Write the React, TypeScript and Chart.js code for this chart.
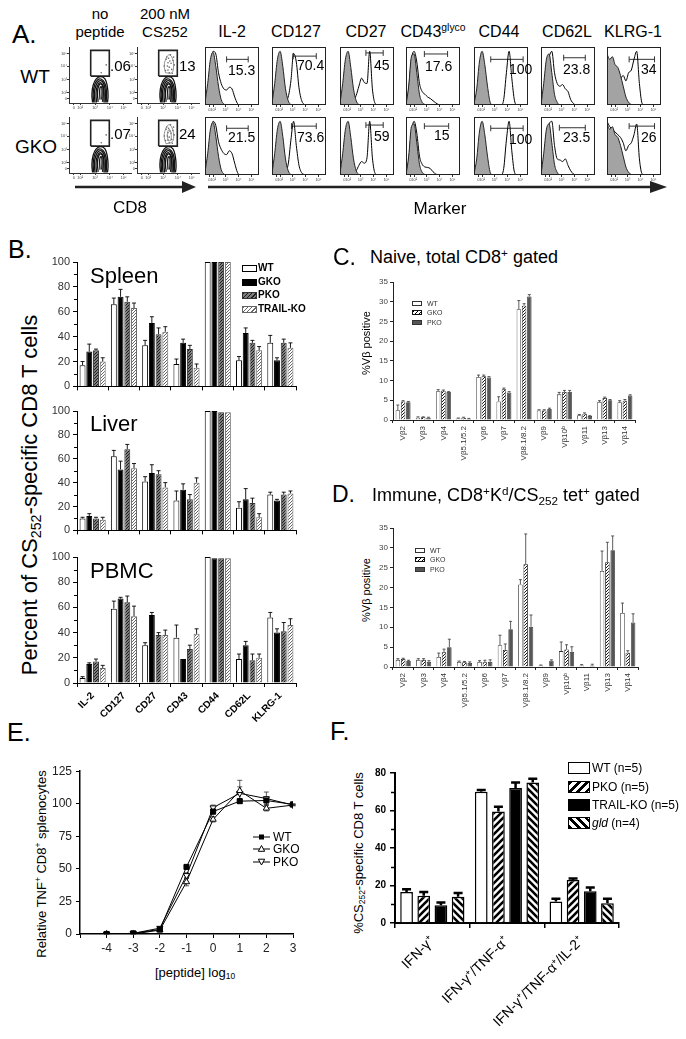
import React, { useEffect, useRef } from "react";
import { Chart, registerables } from "chart.js";
Chart.register(...registerables);

const FONT = "'Liberation Sans', Arial, Helvetica, sans-serif";
Chart.defaults.font.family = FONT;

// ---------------- Panel A data ----------------
const A_HEAD = ["IL-2", "CD127", "CD27", "CD43", "CD44", "CD62L", "KLRG-1"];
const A_HEAD_SUP = ["", "", "", "glyco", "", "", ""];
const A_PCT_WT = ["15.3", "70.4", "45", "17.6", "100", "23.8", "34"];
const A_PCT_GKO = ["21.5", "73.6", "59", "15", "100", "23.5", "26"];
const A_DOT_PCT_WT = [".06", "13"];
const A_DOT_PCT_GKO = [".07", "24"];

const HX = [0, 5, 10, 15, 20, 25, 30, 35, 40, 45, 50, 55, 60, 65, 70, 75, 80, 85, 90, 95, 100];
const H_TICKS = [8, 15, 38, 62, 86];
const H_TICK_LABELS = ["0", "10²", "10³", "10⁴", "10⁵"];

const IL2_CTRL = [5, 40, 85, 98, 72, 35, 10, 2, 0, 0, 0, 0, 0, 0, 0, 0, 0, 0, 0, 0, 0];
const IL2_WT = [0, 20, 70, 100, 95, 60, 40, 30, 28, 33, 30, 15, 3, 0, 0, 0, 0, 0, 0, 0, 0];
const IL2_GKO = [0, 22, 72, 100, 92, 62, 48, 40, 38, 45, 40, 22, 5, 0, 0, 0, 0, 0, 0, 0, 0];
const CD127_CTRL = [3, 40, 85, 100, 72, 30, 8, 1, 0, 0, 0, 0, 0, 0, 0, 0, 0, 0, 0, 0, 0];
const CD127_WT = [0, 1, 2, 4, 6, 8, 15, 45, 96, 80, 32, 8, 1, 0, 0, 0, 0, 0, 0, 0, 0];
const CD127_GKO = [0, 1, 2, 3, 5, 8, 20, 65, 100, 55, 18, 4, 1, 0, 0, 0, 0, 0, 0, 0, 0];
const CD27_CTRL = [3, 40, 85, 100, 70, 30, 8, 1, 0, 0, 0, 0, 0, 0, 0, 0, 0, 0, 0, 0, 0];
const CD27_WT = [0, 2, 3, 4, 5, 8, 18, 35, 50, 42, 40, 100, 30, 3, 0, 0, 0, 0, 0, 0, 0];
const CD27_GKO = [0, 1, 2, 2, 3, 4, 8, 18, 25, 22, 32, 100, 32, 3, 0, 0, 0, 0, 0, 0, 0];
const CD43_CTRL = [0, 35, 90, 95, 60, 20, 5, 1, 0, 0, 0, 0, 0, 0, 0, 0, 0, 0, 0, 0, 0];
const CD43_WT = [0, 30, 85, 100, 80, 40, 25, 20, 15, 12, 8, 4, 1, 0, 0, 0, 0, 0, 0, 0, 0];
const CD43_GKO = [0, 28, 80, 100, 78, 35, 20, 15, 14, 12, 6, 2, 0, 0, 0, 0, 0, 0, 0, 0, 0];
const CD44_CTRL = [2, 30, 80, 100, 75, 35, 5, 0, 0, 0, 0, 0, 0, 0, 0, 0, 0, 0, 0, 0, 0];
const CD44_WT = [0, 0, 0, 0, 0, 0, 0, 0, 0, 0, 0, 10, 60, 100, 50, 8, 0, 0, 0, 0, 0];
const CD44_GKO = [0, 0, 0, 0, 0, 0, 0, 0, 0, 0, 0, 12, 65, 100, 45, 5, 0, 0, 0, 0, 0];
const CD62L_CTRL = [0, 40, 85, 95, 60, 20, 5, 0, 0, 0, 0, 0, 0, 0, 0, 0, 0, 0, 0, 0, 0];
const CD62L_WT = [0, 20, 70, 90, 100, 60, 40, 35, 38, 30, 25, 10, 3, 0, 0, 0, 0, 0, 0, 0, 0];
const CD62L_GKO = [0, 25, 75, 95, 100, 55, 30, 28, 25, 30, 18, 8, 2, 0, 0, 0, 0, 0, 0, 0, 0];
const KLRG1_CTRL = [95, 85, 90, 75, 70, 55, 35, 15, 5, 1, 0, 0, 0, 0, 0, 0, 0, 0, 0, 0, 0];
const KLRG1_WT = [85, 60, 65, 55, 55, 50, 55, 45, 60, 65, 85, 100, 40, 3, 0, 0, 0, 0, 0, 0, 0];
const KLRG1_GKO = [100, 90, 85, 80, 75, 70, 60, 45, 55, 60, 75, 95, 30, 2, 0, 0, 0, 0, 0, 0, 0];

const HIST_CTRL = [IL2_CTRL, CD127_CTRL, CD27_CTRL, CD43_CTRL, CD44_CTRL, CD62L_CTRL, KLRG1_CTRL];
const HIST_WT = [IL2_WT, CD127_WT, CD27_WT, CD43_WT, CD44_WT, CD62L_WT, KLRG1_WT];
const HIST_GKO = [IL2_GKO, CD127_GKO, CD27_GKO, CD43_GKO, CD44_GKO, CD62L_GKO, KLRG1_GKO];
// gate bars: [from, to, level]
const GATE_WT = [[40, 80, 85], [39, 82, 91], [48, 80, 97], [34, 77, 95], [31, 91, 85], [42, 82, 88], [41, 88, 85]];
const GATE_GKO = [[40, 80, 87], [36, 82, 91], [48, 80, 93], [34, 79, 91], [31, 91, 87], [34, 82, 88], [41, 88, 91]];

// dot plots (log-decade units)
const DOT_TICKS = [0.4, 0.9, 2.1, 3.3, 4.4];
const DOT_TICK_LABELS = ["0", "10²", "10³", "10⁴", "10⁵"];
const RING_A = [[1.9, 0.05], [1.85, 0.8], [1.95, 1.6], [2.2, 2.15], [2.55, 2.35], [2.9, 2.15], [3.1, 1.4], [3.15, 0.6], [3.1, 0.05]];
const RING_E = [[2.0, 0.05], [1.95, 0.8], [2.05, 1.55], [2.3, 2.05], [2.62, 2.12], [2.9, 1.75], [3.02, 1.0], [3.0, 0.05]];
const RING_B = [[2.1, 0.05], [2.05, 0.8], [2.15, 1.5], [2.4, 1.95], [2.7, 1.9], [2.9, 1.3], [2.95, 0.6], [2.9, 0.05]];
const RING_F = [[2.22, 0.05], [2.18, 0.85], [2.28, 1.5], [2.5, 1.82], [2.72, 1.6], [2.83, 1.0], [2.82, 0.05]];
const RING_C = [[2.35, 0.1], [2.3, 0.9], [2.4, 1.55], [2.6, 1.7], [2.75, 1.3], [2.75, 0.5], [2.7, 0.1]];
const RING_D = [[2.5, 0.3], [2.48, 1.2], [2.58, 1.45], [2.66, 1.2], [2.64, 0.3]];
const RING_GATE_WT = [[2.3, 2.7], [2.2, 3.3], [2.35, 4.0], [2.6, 4.3], [2.85, 4.0], [2.95, 3.3], [2.8, 2.7], [2.3, 2.7]];
const RING_GATE_GKO = [[2.35, 2.6], [2.2, 3.2], [2.3, 3.9], [2.55, 4.3], [2.8, 4.1], [2.95, 3.4], [2.85, 2.8], [2.35, 2.6]];
const RING_GATE_GKO2 = [[2.5, 2.9], [2.45, 3.5], [2.6, 3.9], [2.75, 3.5], [2.7, 2.9], [2.5, 2.9]];
const DOTS_NOPEP = [[2.6, 2.7], [3.0, 3.4]];
const DOTS_CS = [[2.3, 2.9], [2.6, 3.2], [2.8, 3.0], [2.5, 3.6], [2.9, 3.8], [2.4, 4.1], [2.7, 4.3], [3.0, 3.4], [2.6, 2.7], [2.2, 3.3], [2.75, 3.55], [2.5, 2.95], [2.35, 3.9], [2.85, 2.65], [2.55, 4.0], [2.95, 4.1], [2.45, 3.3], [2.65, 3.75]];
const DOT_GATE = [1.75, 2.4, 3.25, 4.7];

// ---------------- Panel B data ----------------
const B_CATS = ["IL-2", "CD127", "CD27", "CD43", "CD44", "CD62L", "KLRG-1"];
const SPLEEN_WT = [17, 66, 33, 18, 100, 21, 35];
const SPLEEN_WT_ERR = [3, 5, 4, 4, 0, 3, 6];
const SPLEEN_GKO = [28, 72, 51, 35, 100, 43, 21];
const SPLEEN_GKO_ERR = [6, 6, 5, 3, 0, 4, 2];
const SPLEEN_PKO = [29, 68, 42, 30, 100, 35, 35];
const SPLEEN_PKO_ERR = [1, 4, 5, 3, 0, 2, 3];
const SPLEEN_TRAIL = [20, 63, 44, 15, 100, 29, 31];
const SPLEEN_TRAIL_ERR = [3, 4, 4, 3, 0, 3, 4];
const LIVER_WT = [10, 62, 41, 25, 100, 19, 30];
const LIVER_WT_ERR = [1, 5, 4, 8, 0, 5, 2];
const LIVER_GKO = [12, 51, 48, 34, 100, 26, 25];
const LIVER_GKO_ERR = [2, 7, 7, 5, 0, 9, 1];
const LIVER_PKO = [10, 68, 47, 26, 99, 23, 30];
const LIVER_PKO_ERR = [1, 4, 3, 4, 0, 4, 2];
const LIVER_TRAIL = [9, 52, 36, 40, 99, 11, 31];
const LIVER_TRAIL_ERR = [2, 4, 4, 4, 0, 3, 2];
const PBMC_WT = [4, 59, 30, 36, 100, 19, 52];
const PBMC_WT_ERR = [1, 6, 2, 10, 0, 4, 4];
const PBMC_GKO = [15, 67, 54, 19, 99, 30, 40];
const PBMC_GKO_ERR = [1, 1, 2, 0, 0, 3, 3];
const PBMC_PKO = [17, 64, 38, 27, 99, 18, 41];
const PBMC_PKO_ERR = [2, 5, 2, 3, 0, 5, 7];
const PBMC_TRAIL = [12, 53, 38, 39, 99, 20, 46];
const PBMC_TRAIL_ERR = [2, 8, 4, 4, 0, 3, 5];

// ---------------- Panel C / D data ----------------
const V_CATS = ["Vβ2", "Vβ3", "Vβ4", "Vβ5.1/5.2", "Vβ6", "Vβ7", "Vβ8.1/8.2", "Vβ9", "Vβ10ᵇ", "Vβ11", "Vβ13", "Vβ14"];
const C_WT = [2.5, 0.6, 7.3, 0.4, 10.9, 4.7, 28.1, 2.4, 6.5, 1.2, 4.6, 4.5];
const C_WT_ERR = [1.3, 0.2, 0.4, 0.1, 0.5, 1.2, 2.2, 0.2, 0.5, 0.2, 0.3, 0.4];
const C_GKO = [4.7, 0.7, 7.4, 0.6, 11.1, 7.8, 29.0, 2.4, 7.1, 1.6, 5.6, 4.9];
const C_GKO_ERR = [0.2, 0.1, 0.2, 0.1, 0.3, 0.3, 0.5, 0.2, 0.4, 0.2, 0.2, 0.3];
const C_PKO = [4.5, 0.6, 7.1, 0.3, 10.8, 7.0, 31.3, 2.8, 7.1, 1.0, 5.0, 6.2];
const C_PKO_ERR = [0.2, 0.1, 0.1, 0.1, 0.2, 0.2, 0.5, 0.2, 0.4, 0.1, 0.2, 0.2];
const D_WT = [1.8, 1.8, 2.5, 1.3, 1.3, 5.5, 20.8, 0.4, 4.0, 0.4, 24.2, 13.6];
const D_WT_ERR = [0.3, 0.3, 1.0, 0.2, 0.3, 2.5, 1.2, 0.1, 2.3, 0.2, 5.0, 2.5];
const D_GKO = [2.0, 1.8, 3.7, 1.2, 1.2, 4.3, 25.9, 0, 4.4, 0, 26.4, 3.6];
const D_GKO_ERR = [0.2, 0.3, 0.8, 0.2, 0.5, 1.5, 7.6, 0, 1.2, 0, 5.0, 0.5];
const D_PKO = [1.5, 1.3, 5.0, 1.0, 1.3, 9.5, 10.1, 1.6, 3.8, 0.4, 29.4, 11.2];
const D_PKO_ERR = [0.2, 0.3, 2.0, 0.3, 0.5, 2.0, 3.0, 0.2, 1.3, 0.3, 3.6, 2.2];

// ---------------- Panel E data ----------------
const E_X = [-4, -3, -2, -1, 0, 1, 2, 3];
const E_TICKS = [-5, -4, -3, -2, -1, 0, 1, 2, 3];
const E_WT = [0, 0.5, 3.5, 51.5, 94, 102, 102.5, 99.5];
const E_WT_ERR = [0.5, 0.5, 1, 1.5, 2, 1.5, 3, 0.5];
const E_GKO = [0, 0, 3, 40, 88, 110, 96.5, 99];
const E_GKO_ERR = [0.5, 0.5, 1, 3, 2, 8, 2, 0.5];
const E_PKO = [0, 0.5, 4.5, 45, 97, 108, 104, 99];
const E_PKO_ERR = [0.5, 0.5, 1, 2, 2, 5, 5, 0.5];

// ---------------- Panel F data ----------------
const F_CATS = ["IFN-γ⁺", "IFN-γ⁺/TNF-α⁺", "IFN-γ⁺/TNF-α⁺/IL-2⁺"];
const F_WT = [16.5, 70, 11.5];
const F_WT_ERR = [1.5, 1, 1.5];
const F_PKO = [14.5, 59.5, 23];
const F_PKO_ERR = [2, 2.5, 0.8];
const F_TRAIL = [9.5, 72, 17];
const F_TRAIL_ERR = [1.5, 3, 2];
const F_GLD = [14, 75, 10.5];
const F_GLD_ERR = [2, 2, 2.5];

// ---------------- helpers ----------------
function hatch(ctx: any, bg: string, fg: string, dir: number, size: number, lw: number) {
  const c = document.createElement("canvas");
  c.width = size;
  c.height = size;
  const g = c.getContext("2d")!;
  g.fillStyle = bg;
  g.fillRect(0, 0, size, size);
  g.strokeStyle = fg;
  g.lineWidth = lw;
  g.beginPath();
  if (dir > 0) {
    g.moveTo(0, size); g.lineTo(size, 0);
    g.moveTo(-size / 2, size / 2); g.lineTo(size / 2, -size / 2);
    g.moveTo(size / 2, size * 1.5); g.lineTo(size * 1.5, size / 2);
  } else {
    g.moveTo(0, 0); g.lineTo(size, size);
    g.moveTo(-size / 2, size / 2); g.lineTo(size / 2, size * 1.5);
    g.moveTo(size / 2, -size / 2); g.lineTo(size * 1.5, size / 2);
  }
  g.stroke();
  return ctx.createPattern(c, "repeat");
}

const errPlugin = (errs: any[], o: { lw: number; cap: number; color: string; both?: boolean; before?: boolean }) => {
  const draw = (chart: any) => {
    const ctx = chart.ctx;
    const ys = chart.scales.y;
    ctx.save();
    ctx.strokeStyle = o.color;
    ctx.lineWidth = o.lw;
    errs.forEach((arr, di) => {
      if (!arr) return;
      const meta = chart.getDatasetMeta(di);
      meta.data.forEach((el: any, j: number) => {
        const e = arr[j];
        if (!e) return;
        const raw = chart.data.datasets[di].data[j];
        const val = typeof raw === "number" ? raw : raw.y;
        const x = el.x;
        const yTop = ys.getPixelForValue(val + e);
        const yBot = o.both ? ys.getPixelForValue(Math.max(0, val - e)) : el.y;
        ctx.beginPath();
        ctx.moveTo(x, yBot);
        ctx.lineTo(x, yTop);
        ctx.moveTo(x - o.cap / 2, yTop);
        ctx.lineTo(x + o.cap / 2, yTop);
        if (o.both) {
          ctx.moveTo(x - o.cap / 2, yBot);
          ctx.lineTo(x + o.cap / 2, yBot);
        }
        ctx.stroke();
      });
    });
    ctx.restore();
  };
  return o.before ? { id: "errbars", beforeDatasetsDraw: draw } : { id: "errbars", afterDatasetsDraw: draw };
};

const minorTicks = (vals: number[], len: number, lw = 1) => ({
  id: "minorTicks",
  afterDraw(chart: any) {
    const s = chart.scales.y;
    const ctx = chart.ctx;
    const x0 = chart.chartArea.left;
    ctx.save();
    ctx.strokeStyle = "#000";
    ctx.lineWidth = lw;
    ctx.beginPath();
    vals.forEach((v) => {
      const y = Math.round(s.getPixelForValue(v)) + 0.5;
      ctx.moveTo(x0 - len, y);
      ctx.lineTo(x0, y);
    });
    ctx.stroke();
    ctx.restore();
  },
});

const framePlugin = (color: string, lw: number) => ({
  id: "frame",
  afterDraw(chart: any) {
    const a = chart.chartArea;
    const ctx = chart.ctx;
    ctx.save();
    ctx.strokeStyle = color;
    ctx.lineWidth = lw;
    ctx.strokeRect(a.left + 0.5, a.top + 0.5, a.right - a.left - 1, a.bottom - a.top - 1);
    ctx.restore();
  },
});

const NOPLUG = { legend: { display: false }, tooltip: { enabled: false } };

function ChartBox({ x, y, w, h, make }: { x: number; y: number; w: number; h: number; make: (ctx: any) => any }) {
  const ref = useRef<HTMLCanvasElement | null>(null);
  useEffect(() => {
    const cv = ref.current!;
    const ctx = cv.getContext("2d");
    const cfg = make(ctx);
    cfg.options = { responsive: false, animation: false, ...cfg.options };
    const ch = new Chart(cv, cfg);
    return () => ch.destroy();
  }, []);
  return (
    <div style={{ position: "absolute", left: x, top: y, width: w, height: h }}>
      <canvas ref={ref} width={w} height={h} />
    </div>
  );
}

// ---------------- chart factories ----------------
function makeHist(ctrl: number[], samp: number[], gate: number[]) {
  return () => ({
    type: "line",
    data: {
      datasets: [
        { data: HX.map((x, i) => ({ x, y: ctrl[i] })), fill: "origin", backgroundColor: "#a3a3a3", borderColor: "#222", borderWidth: 1, pointRadius: 0, cubicInterpolationMode: "monotone" },
        { data: HX.map((x, i) => ({ x, y: samp[i] })), fill: false, borderColor: "#000", borderWidth: 1, pointRadius: 0, cubicInterpolationMode: "monotone" },
        { data: [{ x: gate[0], y: gate[2] }, { x: gate[1], y: gate[2] }], fill: false, borderColor: "#333", borderWidth: 1, pointStyle: "line", pointRotation: 90, pointRadius: 3, pointBorderColor: "#333", pointBorderWidth: 1 },
      ],
    },
    options: {
      layout: { padding: { top: 1, left: 1, right: 1, bottom: 0 }, autoPadding: false },
      plugins: NOPLUG,
      scales: {
        x: {
          type: "linear", min: 0, max: 100,
          afterBuildTicks: (s: any) => { s.ticks = H_TICKS.map((v) => ({ value: v })); },
          ticks: { callback: (_v: any, i: number) => H_TICK_LABELS[i], font: { size: 4 }, color: "#444", padding: 0, maxRotation: 0, autoSkip: false },
          grid: { drawOnChartArea: false, tickLength: 2, color: "#333" },
          border: { display: false },
          afterFit: (s: any) => { s.height = 7; },
        },
        y: { display: false, min: 0, max: 108 },
      },
    },
    plugins: [framePlugin("#222", 1)],
  });
}

function makeDot(rings: number[][][], grayRings: number[][][], dots: number[][]) {
  return () => ({
    type: "scatter",
    data: {
      datasets: [
        ...rings.map((r) => ({ type: "line", data: r.map((p) => ({ x: p[0], y: p[1] })), borderColor: "#111", borderWidth: 1.3, pointRadius: 0, tension: 0.45, fill: false })),
        ...grayRings.map((r) => ({ type: "line", data: r.map((p) => ({ x: p[0], y: p[1] })), borderColor: "#777", borderWidth: 0.8, pointRadius: 0, tension: 0.45, fill: false })),
        { type: "scatter", data: dots.map((p) => ({ x: p[0], y: p[1] })), pointRadius: 0.8, pointBackgroundColor: "#666", pointBorderWidth: 0 },
        {
          type: "line",
          data: [
            { x: DOT_GATE[0], y: DOT_GATE[1] }, { x: DOT_GATE[0], y: DOT_GATE[3] },
            { x: DOT_GATE[2], y: DOT_GATE[3] }, { x: DOT_GATE[2], y: DOT_GATE[1] }, { x: DOT_GATE[0], y: DOT_GATE[1] },
          ],
          borderColor: "#222", borderWidth: 1.6, pointRadius: 0, tension: 0, fill: false,
        },
      ],
    },
    options: {
      layout: { padding: { top: 3, left: 0, right: 2, bottom: 0 }, autoPadding: false },
      plugins: NOPLUG,
      scales: {
        x: {
          type: "linear", min: 0, max: 5,
          afterBuildTicks: (s: any) => { s.ticks = DOT_TICKS.map((v) => ({ value: v })); },
          ticks: { callback: (_v: any, i: number) => DOT_TICK_LABELS[i], font: { size: 4 }, color: "#444", padding: 0, maxRotation: 0, autoSkip: false },
          grid: { drawOnChartArea: false, tickLength: 2, color: "#333" },
          border: { display: true, color: "#333", width: 1 },
          afterFit: (s: any) => { s.height = 8; },
        },
        y: {
          type: "linear", min: 0, max: 5,
          afterBuildTicks: (s: any) => { s.ticks = DOT_TICKS.map((v) => ({ value: v })); },
          ticks: { callback: (_v: any, i: number) => DOT_TICK_LABELS[i], font: { size: 4 }, color: "#444", padding: 0, autoSkip: false },
          grid: { drawOnChartArea: false, tickLength: 2, color: "#333" },
          border: { display: true, color: "#333", width: 1 },
          afterFit: (s: any) => { s.width = 10; },
        },
      },
    },
  });
}

function makeB(wt: number[], wtE: number[], gko: number[], gkoE: number[], pko: number[], pkoE: number[], tr: number[], trE: number[], showLabels: boolean) {
  return (ctx: any) => ({
    type: "bar",
    data: {
      labels: B_CATS,
      datasets: [
        { data: wt, backgroundColor: "#fff", borderColor: "#000", borderWidth: 1 },
        { data: gko, backgroundColor: "#000", borderColor: "#000", borderWidth: 1 },
        { data: pko, backgroundColor: hatch(ctx, "#7c7c7c", "#1e1e1e", 1, 3, 1), borderColor: "#333", borderWidth: 1 },
        { data: tr, backgroundColor: hatch(ctx, "#fff", "#666", 1, 3, 1), borderColor: "#666", borderWidth: 1 },
      ].map((d) => ({ ...d, barPercentage: 0.88, categoryPercentage: 0.86 })),
    },
    options: {
      layout: { padding: { top: 10, right: 4, left: 0, bottom: 0 }, autoPadding: false },
      plugins: NOPLUG,
      scales: {
        x: {
          grid: { display: true, drawOnChartArea: false, drawTicks: true, tickLength: 4, color: "#000", offset: true },
          border: { display: true, color: "#000", width: 1 },
          ticks: { display: showLabels, font: { size: 10, weight: "bold" }, color: "#000", maxRotation: 45, minRotation: 45, padding: 3, autoSkip: false },
          afterFit: (s: any) => { s.height = showLabels ? 50 : 5; },
        },
        y: {
          min: 0, max: 100,
          ticks: { stepSize: 20, font: { size: 11 }, color: "#333", padding: 3 },
          grid: { display: true, drawOnChartArea: false, drawTicks: true, tickLength: 4, color: "#000" },
          border: { display: true, color: "#000" },
          afterFit: (s: any) => { s.width = 42; },
        },
      },
    },
    plugins: [errPlugin([wtE, gkoE, pkoE, trE], { lw: 0.9, cap: 4, color: "#000" }), minorTicks([10, 30, 50, 70, 90], 3)],
  });
}

function makeV(wt: number[], wtE: number[], gko: number[], gkoE: number[], pko: number[], pkoE: number[]) {
  return (ctx: any) => ({
    type: "bar",
    data: {
      labels: V_CATS,
      datasets: [
        { data: wt, backgroundColor: "#fff", borderColor: "#333", borderWidth: 0.8 },
        { data: gko, backgroundColor: hatch(ctx, "#fff", "#000", 1, 3, 0.9), borderColor: "#111", borderWidth: 0.8 },
        { data: pko, backgroundColor: "#565656", borderColor: "#333", borderWidth: 0.8 },
      ].map((d) => ({ ...d, barPercentage: 0.85, categoryPercentage: 0.78 })),
    },
    options: {
      layout: { padding: { top: 10, right: 5, left: 0, bottom: 0 }, autoPadding: false },
      plugins: NOPLUG,
      scales: {
        x: {
          grid: { display: true, drawOnChartArea: false, drawTicks: true, tickLength: 3, color: "#222", offset: true },
          border: { display: true, color: "#222", width: 1 },
          ticks: { font: { size: 8 }, color: "#333", maxRotation: 90, minRotation: 90, padding: 3, autoSkip: false },
          afterFit: (s: any) => { s.height = 45; },
        },
        y: {
          min: 0, max: 35,
          ticks: { stepSize: 5, font: { size: 8 }, color: "#444", padding: 2 },
          grid: { display: true, drawOnChartArea: false, drawTicks: true, tickLength: 3, color: "#222" },
          border: { display: true, color: "#222" },
          afterFit: (s: any) => { s.width = 28; },
        },
      },
    },
    plugins: [errPlugin([wtE, gkoE, pkoE], { lw: 0.8, cap: 3, color: "#333" })],
  });
}

function makeE() {
  return () => ({
    type: "line",
    data: {
      datasets: [
        { label: "WT", data: E_X.map((x, i) => ({ x, y: E_WT[i] })), borderColor: "#000", borderWidth: 1, pointStyle: "rect", pointRadius: 3.6, pointBackgroundColor: "#000", pointBorderColor: "#000", fill: false },
        { label: "GKO", data: E_X.map((x, i) => ({ x, y: E_GKO[i] })), borderColor: "#000", borderWidth: 1, pointStyle: "triangle", pointRadius: 3.6, pointBackgroundColor: "#fff", pointBorderColor: "#000", pointBorderWidth: 1, fill: false },
        { label: "PKO", data: E_X.map((x, i) => ({ x, y: E_PKO[i] })), borderColor: "#000", borderWidth: 1, pointStyle: "triangle", pointRotation: 180, pointRadius: 3.6, pointBackgroundColor: "#fff", pointBorderColor: "#000", pointBorderWidth: 1, fill: false },
      ],
    },
    options: {
      layout: { padding: { top: 10, right: 8, left: 0, bottom: 0 }, autoPadding: false },
      plugins: NOPLUG,
      scales: {
        x: {
          type: "linear", min: -5, max: 3,
          afterBuildTicks: (s: any) => { s.ticks = E_TICKS.map((v) => ({ value: v })); },
          ticks: { callback: (v: any) => (v === -5 ? "" : String(v)), font: { size: 12 }, color: "#222", padding: 3, maxRotation: 0, autoSkip: false },
          grid: { drawOnChartArea: false, tickLength: 4, color: "#000" },
          border: { display: true, color: "#000", width: 1.5 },
          afterFit: (s: any) => { s.height = 25; },
        },
        y: {
          min: 0, max: 125,
          ticks: { stepSize: 25, font: { size: 12 }, color: "#222", padding: 4 },
          grid: { drawOnChartArea: false, tickLength: 4, color: "#000" },
          border: { display: true, color: "#000", width: 1.5 },
          afterFit: (s: any) => { s.width = 40; },
        },
      },
    },
    plugins: [errPlugin([E_WT_ERR, E_GKO_ERR, E_PKO_ERR], { lw: 0.8, cap: 5, color: "#333", both: true, before: true })],
  });
}

function makeF() {
  return (ctx: any) => ({
    type: "bar",
    data: {
      labels: F_CATS,
      datasets: [
        { data: F_WT, backgroundColor: "#fff", borderColor: "#000", borderWidth: 1.5 },
        { data: F_PKO, backgroundColor: hatch(ctx, "#fff", "#000", 1, 7, 2.6), borderColor: "#000", borderWidth: 1.5 },
        { data: F_TRAIL, backgroundColor: "#000", borderColor: "#000", borderWidth: 1.5 },
        { data: F_GLD, backgroundColor: hatch(ctx, "#fff", "#000", -1, 7, 2.6), borderColor: "#000", borderWidth: 1.5 },
      ].map((d) => ({ ...d, barPercentage: 0.74, categoryPercentage: 0.92 })),
    },
    options: {
      layout: { padding: { top: 10, right: 6, left: 0, bottom: 0 }, autoPadding: false },
      plugins: NOPLUG,
      scales: {
        x: {
          grid: { display: true, drawOnChartArea: false, drawTicks: true, tickLength: 5, color: "#000", lineWidth: 1.5, offset: true },
          border: { display: true, color: "#000", width: 2 },
          ticks: { font: { size: 14 }, color: "#000", maxRotation: 45, minRotation: 45, padding: 5, autoSkip: false },
          afterFit: (s: any) => { s.height = 110; },
        },
        y: {
          min: 0, max: 80,
          ticks: { stepSize: 20, font: { size: 10, weight: "bold" }, color: "#000", padding: 4 },
          grid: { display: true, drawOnChartArea: false, drawTicks: true, tickLength: 5, color: "#000", lineWidth: 1.5 },
          border: { display: true, color: "#000", width: 2 },
          afterFit: (s: any) => { s.width = 40; },
        },
      },
    },
    plugins: [errPlugin([F_WT_ERR, F_PKO_ERR, F_TRAIL_ERR, F_GLD_ERR], { lw: 2.5, cap: 9, color: "#000" }), minorTicks([10, 30, 50, 70], 4, 1.5)],
  });
}

// ---------------- layout constants ----------------
const A_BOX_X = [205, 272, 340, 406, 474, 541, 607];
const A_ROW_Y = [47, 117];
const A_HEAD_CX = [232, 296, 366, 433, 499, 567, 633];
const A_NUM_X = [[228, 297, 374, 425, 509, 563, 641], [228, 297, 374, 434, 509, 563, 641]];
const A_NUM_Y = [[70, 65, 65, 66, 69, 69, 69], [137, 137, 136, 135, 139, 137, 137]];
const DOT_X = [69, 137];
const DOT_NUM_X = [110, 179];

const Txt = ({ x, y, size, children, bold, center, style }: any) => (
  <div
    style={{
      position: "absolute", left: x, top: y, fontSize: size, lineHeight: 1, whiteSpace: "nowrap",
      fontWeight: bold ? "bold" : "normal",
      transform: center ? "translate(-50%,-50%)" : "translateY(-50%)",
      ...style,
    }}
  >
    {children}
  </div>
);

const VTxt = ({ x, y, size, children }: any) => (
  <div style={{ position: "absolute", left: x, top: y, fontSize: size, lineHeight: 1, whiteSpace: "nowrap", transform: "translate(-50%,-50%) rotate(-90deg)" }}>
    {children}
  </div>
);

const Sw = ({ x, y, w, h, bg, border }: any) => (
  <div style={{ position: "absolute", left: x, top: y - h / 2, width: w, height: h, background: bg, border, boxSizing: "border-box" }} />
);

const sup = { fontSize: "0.65em", verticalAlign: "0.55em", lineHeight: 0 } as any;
const sub = { fontSize: "0.65em", verticalAlign: "-0.3em", lineHeight: 0 } as any;

export default function App() {
  return (
    <div style={{ position: "fixed", left: 0, top: 0, width: 686, height: 1039, background: "#fff", overflow: "hidden", fontFamily: FONT, color: "#000" }}>
      {/* ---------- Panel A ---------- */}
      <Txt x={12} y={34} size={26}>A.</Txt>
      <Txt x={100} y={13} size={15} center>no</Txt>
      <Txt x={100} y={31} size={15} center>peptide</Txt>
      <Txt x={165} y={13} size={15} center>200 nM</Txt>
      <Txt x={165} y={31} size={15} center>CS252</Txt>
      {A_HEAD.map((h, i) => (
        <Txt key={"h" + i} x={A_HEAD_CX[i]} y={32} size={16} center>
          {h}
          {A_HEAD_SUP[i] ? <span style={sup}>{A_HEAD_SUP[i]}</span> : null}
        </Txt>
      ))}
      <Txt x={35} y={76} size={19} center>WT</Txt>
      <Txt x={36} y={146} size={19} center>GKO</Txt>

      {A_ROW_Y.map((ry, r) =>
        DOT_X.map((dx, c) => (
          <ChartBox
            key={"dot" + r + c}
            x={dx - 10}
            y={ry - 3}
            w={74}
            h={67}
            make={makeDot(
              [RING_A, RING_E, RING_B, RING_F, RING_C, RING_D],
              c === 1 ? (r === 0 ? [RING_GATE_WT] : [RING_GATE_GKO, RING_GATE_GKO2]) : [],
              c === 1 ? DOTS_CS : DOTS_NOPEP
            )}
          />
        ))
      )}
      {A_DOT_PCT_WT.map((t, i) => <Txt key={"dw" + i} x={DOT_NUM_X[i]} y={65} size={15}>{t}</Txt>)}
      {A_DOT_PCT_GKO.map((t, i) => <Txt key={"dg" + i} x={DOT_NUM_X[i]} y={133} size={15}>{t}</Txt>)}

      {A_HEAD.map((_h, i) => (
        <React.Fragment key={"hist" + i}>
          <ChartBox x={A_BOX_X[i] - 1} y={A_ROW_Y[0] - 1} w={56} h={66} make={makeHist(HIST_CTRL[i], HIST_WT[i], GATE_WT[i])} />
          <ChartBox x={A_BOX_X[i] - 1} y={A_ROW_Y[1] - 1} w={56} h={66} make={makeHist(HIST_CTRL[i], HIST_GKO[i], GATE_GKO[i])} />
          <Txt x={A_NUM_X[0][i]} y={A_NUM_Y[0][i]} size={14}>{A_PCT_WT[i]}</Txt>
          <Txt x={A_NUM_X[1][i]} y={A_NUM_Y[1][i]} size={14}>{A_PCT_GKO[i]}</Txt>
        </React.Fragment>
      ))}

      <svg style={{ position: "absolute", left: 0, top: 0 }} width={686} height={200}>
        <line x1={75} y1={187} x2={184} y2={187} stroke="#222" strokeWidth={2.5} />
        <polygon points="182,181 196,187 182,193" fill="#222" />
        <line x1={208} y1={187} x2={652} y2={187} stroke="#222" strokeWidth={2.5} />
        <polygon points="650,181 667,187 650,193" fill="#222" />
      </svg>
      <Txt x={130} y={207} size={17} center>CD8</Txt>
      <Txt x={440} y={208} size={17} center>Marker</Txt>

      {/* ---------- Panel B ---------- */}
      <Txt x={8} y={249} size={25}>B.</Txt>
      <VTxt x={30} y={495} size={22}>
        Percent of CS<span style={sub}>252</span>-specific CD8 T cells
      </VTxt>
      <ChartBox x={35} y={252} w={265} h={144} make={makeB(SPLEEN_WT, SPLEEN_WT_ERR, SPLEEN_GKO, SPLEEN_GKO_ERR, SPLEEN_PKO, SPLEEN_PKO_ERR, SPLEEN_TRAIL, SPLEEN_TRAIL_ERR, false)} />
      <ChartBox x={35} y={401} w={265} h={139} make={makeB(LIVER_WT, LIVER_WT_ERR, LIVER_GKO, LIVER_GKO_ERR, LIVER_PKO, LIVER_PKO_ERR, LIVER_TRAIL, LIVER_TRAIL_ERR, false)} />
      <ChartBox x={35} y={547} w={265} h={186} make={makeB(PBMC_WT, PBMC_WT_ERR, PBMC_GKO, PBMC_GKO_ERR, PBMC_PKO, PBMC_PKO_ERR, PBMC_TRAIL, PBMC_TRAIL_ERR, true)} />
      <Txt x={90} y={276} size={22}>Spleen</Txt>
      <Txt x={90} y={424} size={22}>Liver</Txt>
      <Txt x={90} y={571} size={22}>PBMC</Txt>
      <Sw x={242} y={268} w={15} h={7} bg="#fff" border="1px solid #000" />
      <Sw x={242} y={282} w={15} h={7} bg="#000" border="1px solid #000" />
      <Sw x={242} y={295} w={15} h={7} bg="repeating-linear-gradient(135deg,#1e1e1e 0 1px,#7c7c7c 1px 3px)" border="1px solid #333" />
      <Sw x={242} y={309} w={15} h={7} bg="repeating-linear-gradient(135deg,#666 0 1px,#fff 1px 3px)" border="1px solid #666" />
      <Txt x={258} y={268} size={10} bold>WT</Txt>
      <Txt x={258} y={282} size={10} bold>GKO</Txt>
      <Txt x={258} y={295} size={10} bold>PKO</Txt>
      <Txt x={258} y={309} size={10} bold>TRAIL-KO</Txt>

      {/* ---------- Panel C ---------- */}
      <Txt x={333} y={257} size={23}>C.</Txt>
      <Txt x={370} y={257} size={18}>
        Naive, total CD8<span style={sup}>+</span> gated
      </Txt>
      <VTxt x={366} y={343} size={11}>%Vβ positive</VTxt>
      <ChartBox x={365} y={272} w={275} h={193} make={makeV(C_WT, C_WT_ERR, C_GKO, C_GKO_ERR, C_PKO, C_PKO_ERR)} />
      <Sw x={412} y={303} w={10} h={5} bg="#fff" border="1px solid #333" />
      <Sw x={412} y={312} w={10} h={5} bg="repeating-linear-gradient(135deg,#000 0 1px,#fff 1px 3px)" border="1px solid #111" />
      <Sw x={412} y={322} w={10} h={5} bg="#565656" border="1px solid #333" />
      <Txt x={427} y={303} size={7} style={{ color: "#333" }}>WT</Txt>
      <Txt x={427} y={312} size={7} style={{ color: "#333" }}>GKO</Txt>
      <Txt x={427} y={322} size={7} style={{ color: "#333" }}>PKO</Txt>

      {/* ---------- Panel D ---------- */}
      <Txt x={332} y={494} size={23}>D.</Txt>
      <Txt x={372} y={495} size={18}>
        Immune, CD8<span style={sup}>+</span>K<span style={sup}>d</span>/CS<span style={sub}>252</span> tet<span style={sup}>+</span> gated
      </Txt>
      <VTxt x={366} y={590} size={11}>%Vβ positive</VTxt>
      <ChartBox x={365} y={518} w={278} h={194} make={makeV(D_WT, D_WT_ERR, D_GKO, D_GKO_ERR, D_PKO, D_PKO_ERR)} />
      <Sw x={415} y={550} w={10} h={5} bg="#fff" border="1px solid #333" />
      <Sw x={415} y={559} w={10} h={5} bg="repeating-linear-gradient(135deg,#000 0 1px,#fff 1px 3px)" border="1px solid #111" />
      <Sw x={415} y={569} w={10} h={5} bg="#565656" border="1px solid #333" />
      <Txt x={430} y={550} size={7} style={{ color: "#333" }}>WT</Txt>
      <Txt x={430} y={559} size={7} style={{ color: "#333" }}>GKO</Txt>
      <Txt x={430} y={569} size={7} style={{ color: "#333" }}>PKO</Txt>

      {/* ---------- Panel E ---------- */}
      <Txt x={7} y={732} size={25}>E.</Txt>
      <VTxt x={41} y={864} size={13}>
        Relative TNF<span style={sup}>+</span> CD8<span style={sup}>+</span> splenocytes
      </VTxt>
      <ChartBox x={40} y={760} w={261} h={199} make={makeE()} />
      <Txt x={195} y={972} size={13} center>
        [peptide] log<span style={sub}>10</span>
      </Txt>
      <svg style={{ position: "absolute", left: 250, top: 830 }} width={25} height={40}>
        <line x1={3} y1={7} x2={20} y2={7} stroke="#000" strokeWidth={1} />
        <rect x={9} y={4.5} width={5} height={5} fill="#000" />
        <line x1={3} y1={19} x2={20} y2={19} stroke="#000" strokeWidth={1} />
        <polygon points="11.5,15.5 8.3,21.3 14.7,21.3" fill="#fff" stroke="#000" strokeWidth={1} />
        <line x1={3} y1={32} x2={20} y2={32} stroke="#000" strokeWidth={1} />
        <polygon points="8.3,29.2 14.7,29.2 11.5,35" fill="#fff" stroke="#000" strokeWidth={1} />
      </svg>
      <Txt x={273} y={837} size={12}>WT</Txt>
      <Txt x={273} y={849} size={12}>GKO</Txt>
      <Txt x={273} y={862} size={12}>PKO</Txt>

      {/* ---------- Panel F ---------- */}
      <Txt x={330} y={731} size={25}>F.</Txt>
      <VTxt x={358} y={853} size={13}>
        %CS<span style={sub}>252</span>-specific CD8 T cells
      </VTxt>
      <ChartBox x={355} y={763} w={270} h={270} make={makeF()} />
      <Sw x={568} y={768} w={22} h={12} bg="#fff" border="1.5px solid #000" />
      <Sw x={568} y={787} w={22} h={12} bg="repeating-linear-gradient(135deg,#000 0 2.5px,#fff 2.5px 6px)" border="1.5px solid #000" />
      <Sw x={568} y={805} w={22} h={12} bg="#000" border="1.5px solid #000" />
      <Sw x={568} y={823} w={22} h={12} bg="repeating-linear-gradient(45deg,#000 0 2.5px,#fff 2.5px 6px)" border="1.5px solid #000" />
      <Txt x={592} y={768} size={12}>WT (n=5)</Txt>
      <Txt x={592} y={787} size={12}>PKO (n=5)</Txt>
      <Txt x={592} y={805} size={12}>TRAIL-KO (n=5)</Txt>
      <Txt x={592} y={823} size={12}>
        <i>gld</i> (n=4)
      </Txt>
    </div>
  );
}
